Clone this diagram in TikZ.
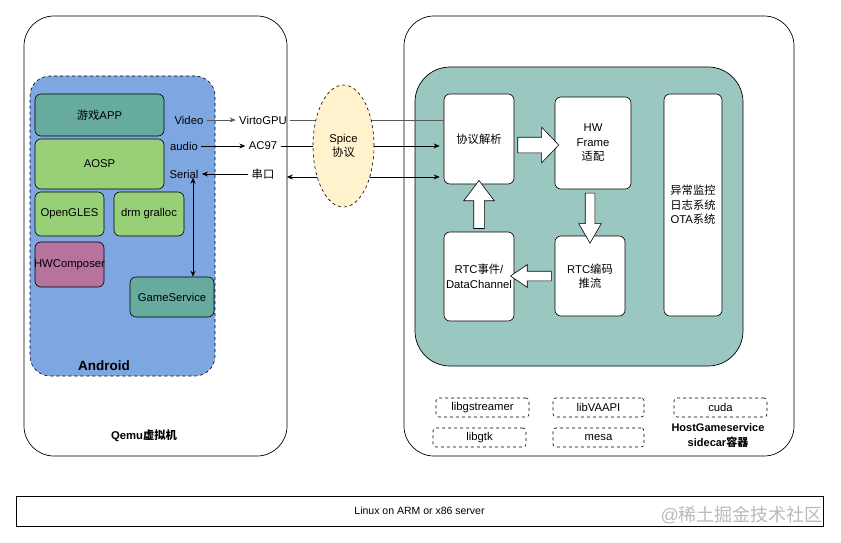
\documentclass[tikz,border=0pt]{standalone}
\usepackage{fontspec}
\setmainfont{Liberation Sans}
\newfontfamily\cjk{Noto Sans CJK SC}
\newcommand{\zh}[1]{{\cjk #1}}
\usetikzlibrary{arrows.meta,shapes.geometric,shapes.arrows,calc}
\definecolor{androidblue}{HTML}{7EA6E0}
\definecolor{appteal}{HTML}{67AB9F}
\definecolor{aospgreen}{HTML}{97D077}
\definecolor{hwcpurple}{HTML}{B5739D}
\definecolor{hostteal}{HTML}{9AC7BF}
\definecolor{spiceyellow}{HTML}{FFF2CC}
\begin{document}
\begin{tikzpicture}[x=1pt, y=-1pt, font=\fontsize{11.3}{14.5}\selectfont,
    >={Stealth[length=6pt, width=5pt]},
    frame/.style={draw, line width=0.7pt, rounded corners=30pt},
    box/.style={draw, line width=0.6pt, rounded corners=6pt, inner sep=1pt, align=center},
    libbox/.style={draw, dashed, line width=0.6pt, rounded corners=3pt, minimum height=19pt},
    wire/.style={line width=0.7pt},
    fatarrow/.style={draw, fill=white, line width=0.6pt, single arrow, inner xsep=0pt,
        sloped, allow upside down, midway, single arrow head indent=0pt}]
\useasboundingbox (0,0) rectangle (841,543);

% containers
\node[frame, minimum width=263, minimum height=440] (qemu) at (155.5,236) {};
\node[frame, minimum width=390, minimum height=440] (host) at (599,236) {};
\node[draw, dashed, fill=androidblue, line width=0.6pt, rounded corners=20pt,
    minimum width=185, minimum height=300] (android) at (122.5,226) {};
\node[draw, fill=hostteal, line width=0.7pt, rounded corners=35pt,
    minimum width=328, minimum height=299] (core) at (579,216.5) {};

% android side
\node[box, fill=appteal, minimum width=129, minimum height=42] (app) at (99.5,115) {\zh{游戏}APP};
\node[box, fill=aospgreen, minimum width=129, minimum height=50] (aosp) at (99.5,164) {AOSP};
\node[box, fill=aospgreen, minimum width=69, minimum height=44] (gles) at (69.5,214) {OpenGLES};
\node[box, fill=aospgreen, minimum width=70, minimum height=44] (drm) at (149,214) {drm gralloc};
\node[box, fill=hwcpurple, minimum width=69, minimum height=45,
    label={center:HWComposer}] (hwc) at (69.5,264.5) {};
\node[box, fill=appteal, minimum width=84, minimum height=40] (gs) at (172,297) {GameService};
\node[font=\fontsize{13.5}{16}\selectfont\bfseries] (androidlbl) at (104,366) {Android};
\node[font=\fontsize{11.3}{14}\selectfont\bfseries] (qemulbl) at (144,436) {Qemu\zh{虚拟机}};

\node (video) at (189,120) {Video};
\node (audio) at (184,146) {audio};
\node (serial) at (184,174) {Serial};
\node (virto) at (263,120) {VirtoGPU};
\node (ac97) at (263,146) {AC97};
\node (chuankou) at (263,174) {\zh{串口}};

% host side
\node[box, fill=white, minimum width=70, minimum height=90] (xieyi) at (479,139) {\zh{协议解析}};
\node[box, fill=white, minimum width=76, minimum height=92] (hw) at (593,143) {HW\\Frame\\\zh{适配}};
\node[box, fill=white, minimum width=58, minimum height=222] (mon) at (693,205)
    {\zh{异常监控}\\\zh{日志系统}\\OTA\zh{系统}};
\node[box, fill=white, minimum width=70, minimum height=80] (enc) at (590,276) {RTC\zh{编码}\\\zh{推流}};
\node[box, fill=white, minimum width=70, minimum height=89] (rtce) at (479,276.5) {RTC\zh{事件}/\\DataChannel};

\node[libbox, minimum width=93] (gst) at (482.5,407.5) {libgstreamer};
\node[libbox, minimum width=91] (vaapi) at (598.5,407.5) {libVAAPI};
\node[libbox, minimum width=93] (cuda) at (720.5,407.5) {cuda};
\node[libbox, minimum width=93] (gtk) at (479.5,437.5) {libgtk};
\node[libbox, minimum width=91] (mesa) at (598.5,437.5) {mesa};
\node[font=\fontsize{11}{15}\selectfont\bfseries, align=center] (hostlbl) at (718,436)
    {HostGameservice\\sidecar\zh{容器}};

% fat arrows
\path ([yshift=-6pt]xieyi.east) -- ([yshift=-6pt]xieyi.east -| hw.west)
    node[fatarrow, minimum height=41, inner ysep=7.5pt, single arrow head extend=10pt,
    single arrow tip angle=92] (a1) {};
\path (hw.south -| enc.north) -- ([yshift=-3pt]enc.north)
    node[fatarrow, minimum height=50, inner ysep=4.5pt, single arrow head extend=6.5pt,
    single arrow tip angle=60] (a2) {};
\path (enc.west) -- (enc.west -| rtce.east)
    node[fatarrow, minimum height=41, inner ysep=4.5pt, single arrow head extend=6.5pt,
    single arrow tip angle=68] (a3) {};
\path (rtce.north) -- (xieyi.south)
    node[fatarrow, minimum height=48, inner ysep=5pt, single arrow head extend=10pt,
    single arrow tip angle=74] (a4) {};

% connectors
\draw[wire, gray!70!black, ->] (video) -- (virto);
\draw[wire, ->] (audio) -- (ac97);
\draw[wire, ->] (chuankou) -- (serial);
\draw[wire, <->] ([xshift=9pt, yshift=4pt]serial.south) -- ([xshift=9pt]serial.south |- gs.north);
\draw[wire, gray!70!black] (virto.east) -- (virto.east -| xieyi.west);
\draw[wire, ->, shorten >=4pt] (ac97.east) -- (ac97.east -| xieyi.west);
\draw[wire, <->, shorten <=9pt, shorten >=4pt] ([yshift=-3pt]chuankou.east)
    -- ([yshift=-3pt]chuankou.east -| xieyi.west);
\node[draw, dashed, fill=spiceyellow, line width=0.6pt, ellipse, inner sep=0pt,
    minimum width=61, minimum height=122, align=center] (spice) at (343.5,146) {Spice\\\zh{协议}};

% bottom
\node[draw, line width=0.8pt, minimum width=807, minimum height=30] (linux) at (419.5,511)
    {\fontsize{10.5}{12}\selectfont Linux on ARM or x86 server};
\node[text=gray!55, font=\fontsize{18}{20}\selectfont, anchor=east, inner sep=0pt] (mark) at (823,515)
    {@\zh{稀土掘金技术社区}};
\end{tikzpicture}
\end{document}
